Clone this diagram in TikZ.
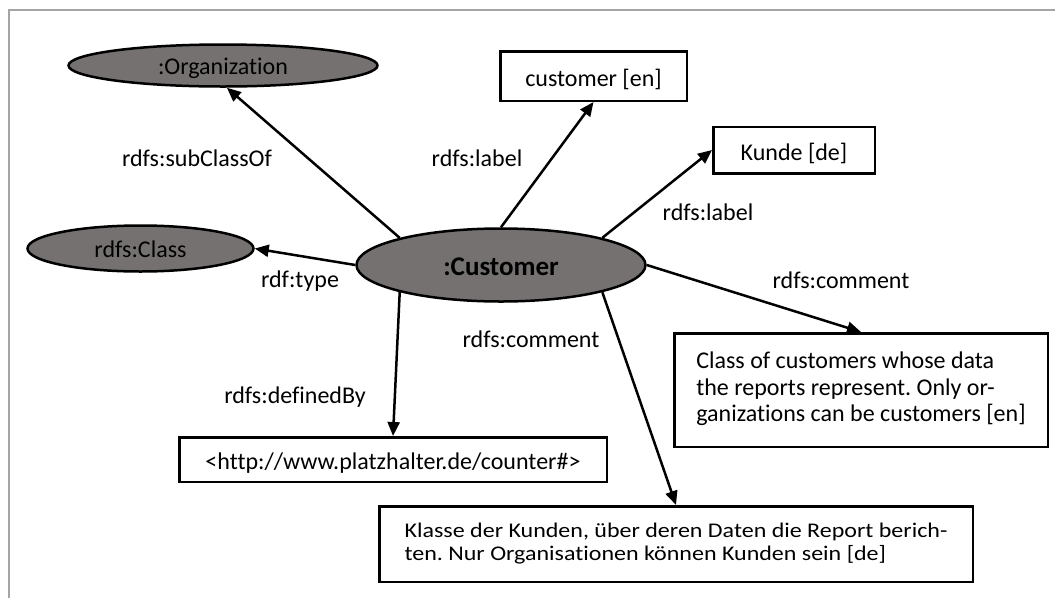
\documentclass[tikz,border=0pt]{standalone}
\usepackage{fontspec}
\setmainfont{Carlito}[Ligatures={NoCommon,NoContextual}]
\frenchspacing
\usetikzlibrary{shapes.geometric,arrows.meta}
\definecolor{classfill}{RGB}{117,113,113}
\definecolor{framegray}{RGB}{165,165,165}
\begin{document}
\begin{tikzpicture}[x=1pt,y=-1pt,
  every node/.style={font=\fontsize{24}{26.5}\selectfont, inner sep=0pt},
  cls/.style={ellipse, draw=black, line width=2.5pt, fill=classfill,
              text height=17pt, text depth=0pt},
  lit/.style={rectangle, draw=black, line width=2.5pt, fill=white,
              text height=20pt, text depth=0pt},
  note/.style={rectangle, draw=black, line width=2.5pt, fill=white},
  prop/.style={anchor=base},
  rel/.style={line width=2.5pt, -{Triangle[length=14pt,width=12pt]}},
]
\useasboundingbox (0,0) rectangle (1055,598);

% page frame (top and left edges)
\draw[framegray, line width=2pt] (8.5,598) -- (8.5,9.5) -- (1055,9.5);

% classes
\node[cls, minimum width=309pt, minimum height=42pt] (org) at (223,65.5) {:Organization};
\node[cls, minimum width=226pt, minimum height=46pt] (rdfsclass) at (140.5,248.5) {rdfs:Class};
\node[cls, minimum width=289pt, minimum height=73pt,
      font=\fontsize{27}{30}\selectfont\bfseries, text height=20pt] (cust) at (501,265) {:Customer};

% literals
\node[lit, minimum width=186.5pt, minimum height=49.5pt] (labEn) at (593.5,76) {customer [en]};
\node[lit, minimum width=161.5pt, minimum height=46.5pt, text height=21.4pt] (labDe) at (794,150) {Kunde [de]};
\node[lit, minimum width=427.5pt, minimum height=44.5pt, text height=19pt] (url) at (393,459.5)
  {<http://www.platzhalter.de/counter\#>};
\node[note, minimum width=373.5pt, minimum height=113.5pt] (cmtEn) at (861,390)
  {\begin{tabular}{@{}l@{}}Class of customers whose data\\
   the reports represent. Only or-\\
   ganizations can be customers [en]\end{tabular}};
\node[note, minimum width=593.5pt, minimum height=75.5pt] (cmtDe) at (676,544)
  {\scalebox{1}[0.87]{\begin{tabular}{@{}l@{}}Klasse der Kunden, über deren Daten die Report berich-\\
   ten. Nur Organisationen können Kunden sein [de]\end{tabular}}};

% properties
\draw[rel] (cust.165) -- (org.280);
\draw[rel] (cust.west) -- (rdfsclass.east);
\draw[rel] (cust.90) -- (labEn.south);
\draw[rel] (cust.15) -- (labDe.west);
\draw[rel] (cust.east) -- (cmtEn.north);
\draw[rel] (cust.345) -- (cmtDe.north);
\draw[rel] (cust.195) -- (url.north);

% property labels
\node[prop] (pSub)  at (197,166) {rdfs:subClassOf};
\node[prop] (pType) at (300,287) {rdf:type};
\node[prop] (pLabEn) at (477,166) {rdfs:label};
\node[prop] (pLabDe) at (708,220) {rdfs:label};
\node[prop] (pCmtEn) at (841,288) {rdfs:comment};
\node[prop] (pCmtDe) at (531,347) {rdfs:comment};
\node[prop] (pDef)  at (295,403) {rdfs:definedBy};
\end{tikzpicture}
\end{document}
